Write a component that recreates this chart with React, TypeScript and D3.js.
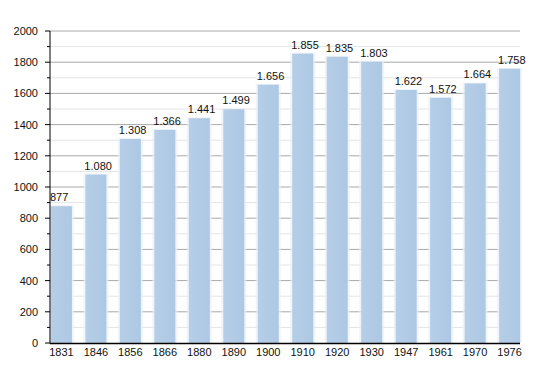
import * as React from "react";
import * as d3 from "d3";

const years = ["1831", "1846", "1856", "1866", "1880", "1890", "1900", "1910", "1920", "1930", "1947", "1961", "1970", "1976"];
const population = [877, 1080, 1308, 1366, 1441, 1499, 1656, 1855, 1835, 1803, 1622, 1572, 1664, 1758];
const majorTicks = [0, 200, 400, 600, 800, 1000, 1200, 1400, 1600, 1800, 2000];
const minorTicks = [100, 300, 500, 700, 900, 1100, 1300, 1500, 1700, 1900];

const fmt = (v: number) => (v >= 1000 ? Math.floor(v / 1000) + "." + String(v % 1000).padStart(3, "0") : String(v));

export default function App() {
    const width = 550;
    const height = 373;
    const left = 50;
    const right = 520;
    const top = 31;
    const bottom = 343;

    const x = d3.scaleBand<string>()
        .domain(years)
        .range([44, 527])
        .paddingInner(0.39)
        .paddingOuter(0.2);
    const y = d3.scaleLinear().domain([0, 2000]).range([bottom, top]);

    const font = "'Liberation Sans', Arial, sans-serif";

    return (
        <svg width={width} height={height} style={{ position: "absolute", left: 0, top: 0, background: "#fff" }}>
            <defs>
                <linearGradient id="barGrad" x1="0" x2="1" y1="0" y2="0">
                    <stop offset="0" stopColor="#b6cee7" />
                    <stop offset="1" stopColor="#adc8e4" />
                </linearGradient>
            </defs>
            {/* minor grid */}
            {minorTicks.map((t) => (
                <line key={"mg" + t} x1={left} x2={right} y1={y(t)} y2={y(t)} stroke="#e4e4e4" strokeWidth={1} />
            ))}
            {/* major grid */}
            {majorTicks.slice(1).map((t) => (
                <line key={"g" + t} x1={left} x2={right} y1={y(t)} y2={y(t)} stroke="#a8a8a8" strokeWidth={1} />
            ))}
            {/* soft shadow around bars */}
            {years.map((yr, i) => (
                <rect key={"s" + yr} x={x(yr)! - 2} y={y(population[i]) - 1} width={x.bandwidth() + 4} height={bottom - y(population[i]) + 1}
                    fill="#e8f1fa" opacity={0.7} />
            ))}
            {years.map((yr, i) => (
                <rect key={yr} x={x(yr)} y={y(population[i])} width={x.bandwidth()} height={bottom - y(population[i])}
                    fill="url(#barGrad)" />
            ))}
            {years.map((yr, i) => (
                <text key={"v" + yr} x={x(yr)! - 1} y={y(population[i]) - 5} fontFamily={font} fontSize={11} fill="#111">
                    {fmt(population[i])}
                </text>
            ))}
            {/* axes */}
            <line x1={left} x2={left} y1={top} y2={bottom + 0.5} stroke="#000" strokeWidth={1} />
            <line x1={left} x2={right} y1={bottom + 0.5} y2={bottom + 0.5} stroke="#000" strokeWidth={1.3} />
            {majorTicks.map((t) => (
                <g key={"t" + t}>
                    <line x1={left - 5} x2={left} y1={y(t)} y2={y(t)} stroke="#000" />
                    <text x={38} y={y(t) + 4} textAnchor="end" fontFamily={font} fontSize={11} fill="#111">{t}</text>
                </g>
            ))}
            {minorTicks.map((t) => (
                <line key={"mt" + t} x1={left - 3} x2={left} y1={y(t)} y2={y(t)} stroke="#000" />
            ))}
            {years.map((yr) => (
                <text key={"x" + yr} x={x(yr)! + x.bandwidth() / 2} y={356} textAnchor="middle" fontFamily={font} fontSize={11} fill="#111">
                    {yr}
                </text>
            ))}
        </svg>
    );
}
